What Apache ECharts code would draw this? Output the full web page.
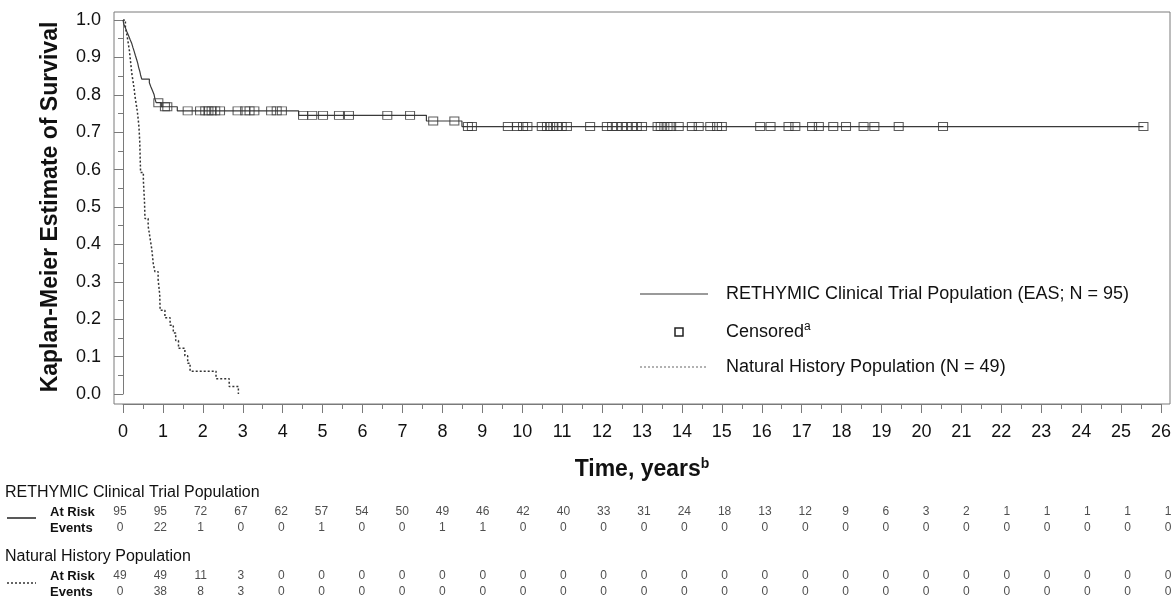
<!DOCTYPE html>
<html><head><meta charset="utf-8">
<script src="https://cdn.jsdelivr.net/npm/echarts@6/dist/echarts.min.js"></script>
<style>html,body{margin:0;padding:0;background:#fff}#c{width:1176px;height:600px}</style>
</head><body><div id="c"></div>
<script>
// RETHYMIC Kaplan-Meier steps (time in years, survival after step)
const rethTime = [0, 0.02, 0.06, 0.10, 0.14, 0.18, 0.22, 0.25, 0.28, 0.31, 0.34, 0.37, 0.39, 0.42, 0.44, 0.47, 0.66, 0.70, 0.74, 0.78, 0.80, 0.83, 0.96, 1.36, 4.40, 7.60, 8.49, 25.56];
const rethSurv = [1.0, 0.989, 0.979, 0.968, 0.958, 0.947, 0.937, 0.926, 0.916, 0.905, 0.895, 0.884, 0.874, 0.863, 0.853, 0.842, 0.832, 0.821, 0.811, 0.800, 0.789, 0.779, 0.768, 0.757, 0.745, 0.730, 0.715, 0.715];
// Censored observations
const censorTime = [0.885, 1.05, 1.11, 1.62, 1.93, 2.06, 2.14, 2.22, 2.31, 2.43, 2.87, 3.06, 3.17, 3.29, 3.71, 3.85, 3.98, 4.51, 4.74, 5.01, 5.41, 5.66, 6.62, 7.19, 7.77, 8.30, 8.64, 8.74, 9.64, 9.87, 10.02, 10.13, 10.49, 10.62, 10.70, 10.78, 10.87, 10.99, 11.12, 11.70, 12.12, 12.25, 12.37, 12.50, 12.62, 12.75, 12.87, 13.00, 13.39, 13.47, 13.56, 13.64, 13.73, 13.92, 14.25, 14.42, 14.71, 14.88, 15.00, 15.96, 16.22, 16.67, 16.84, 17.26, 17.43, 17.79, 18.11, 18.55, 18.82, 19.43, 20.54, 25.56];
const censorSurv = [0.779, 0.768, 0.768,
  0.757, 0.757, 0.757, 0.757, 0.757, 0.757, 0.757, 0.757, 0.757, 0.757, 0.757, 0.757, 0.757, 0.757,
  0.745, 0.745, 0.745, 0.745, 0.745, 0.745, 0.745,
  0.730, 0.730,
  0.715, 0.715, 0.715, 0.715, 0.715, 0.715, 0.715, 0.715, 0.715, 0.715, 0.715, 0.715, 0.715, 0.715, 0.715, 0.715,
  0.715, 0.715, 0.715, 0.715, 0.715, 0.715, 0.715, 0.715, 0.715, 0.715, 0.715, 0.715, 0.715, 0.715, 0.715, 0.715,
  0.715, 0.715, 0.715, 0.715, 0.715, 0.715, 0.715, 0.715, 0.715, 0.715, 0.715, 0.715, 0.715, 0.715];
// Natural history Kaplan-Meier steps
const nhTime = [0, 0.06, 0.10, 0.13, 0.16, 0.18, 0.20, 0.22, 0.25, 0.28, 0.30, 0.33, 0.36, 0.38, 0.40, 0.41, 0.42, 0.43, 0.44, 0.51, 0.52, 0.53, 0.54, 0.55, 0.63, 0.66, 0.69, 0.72, 0.76, 0.80, 0.88, 0.90, 0.92, 0.93, 1.05, 1.18, 1.26, 1.32, 1.39, 1.55, 1.62, 1.68, 2.33, 2.66, 2.89];
const nhSurv = [1.0, 0.980, 0.959, 0.939, 0.918, 0.898, 0.878, 0.857, 0.837, 0.816, 0.796, 0.776, 0.755, 0.735, 0.714, 0.694, 0.673, 0.633, 0.592, 0.571, 0.551, 0.531, 0.510, 0.469, 0.449, 0.429, 0.408, 0.388, 0.347, 0.327, 0.306, 0.286, 0.265, 0.224, 0.204, 0.184, 0.163, 0.143, 0.122, 0.102, 0.082, 0.061, 0.041, 0.020, 0.0];
// Number-at-risk table
const tableYears = [0,1,2,3,4,5,6,7,8,9,10,11,12,13,14,15,16,17,18,19,20,21,22,23,24,25,26];
const rethAtRisk = [95,95,72,67,62,57,54,50,49,46,42,40,33,31,24,18,13,12,9,6,3,2,1,1,1,1,1];
const rethEvents = [0,22,1,0,0,1,0,0,1,1,0,0,0,0,0,0,0,0,0,0,0,0,0,0,0,0,0];
const nhAtRisk = [49,49,11,3,0,0,0,0,0,0,0,0,0,0,0,0,0,0,0,0,0,0,0,0,0,0,0];
const nhEvents = [0,38,8,3,0,0,0,0,0,0,0,0,0,0,0,0,0,0,0,0,0,0,0,0,0,0,0];
const rowNames = ['At Risk', 'Events'];

const FONT = '"Liberation Sans", Arial, sans-serif';
const AX = '#7a7a7a';

function pairs(a, b) { return a.map((v, i) => [v, b[i]]); }
function tableData(risk, events) {
  const d = [];
  tableYears.forEach((y, i) => { d.push([y, 0, risk[i]]); d.push([y, 1, events[i]]); });
  return d;
}

const chart = echarts.init(document.getElementById('c'), null, {renderer: 'canvas'});
const tableAxisY = (gi) => ({
  type: 'category', gridIndex: gi, data: rowNames, inverse: true,
  axisLine: {show: false}, axisTick: {show: false},
  axisLabel: {interval: 0, align: 'left', margin: 70, fontFamily: FONT, fontSize: 13, fontWeight: 'bold', color: '#111'}
});
const tableAxisX = (gi) => ({
  type: 'value', gridIndex: gi, min: 0, max: 26, interval: 1,
  axisLine: {show: false}, axisTick: {show: false}, axisLabel: {show: false}, splitLine: {show: false}
});
const tableSeries = (gi, data) => ({
  type: 'scatter', xAxisIndex: gi, yAxisIndex: gi, data: data, symbolSize: 1,
  itemStyle: {color: 'transparent'}, silent: true,
  label: {show: true, position: 'inside', formatter: p => String(p.value[2]), fontFamily: FONT, fontSize: 12, color: '#222'}
});

chart.setOption({
  animation: false,
  backgroundColor: '#fff',
  grid: [
    {left: 123, right: 15, top: 20, height: 374},
    {left: 120, right: 8, top: 504, height: 32},
    {left: 120, right: 8, top: 568, height: 32}
  ],
  xAxis: [
    {
      type: 'value', gridIndex: 0, min: 0, max: 26, interval: 1, offset: 10,
      axisLine: {show: true, onZero: false, lineStyle: {color: AX}},
      axisTick: {show: true, length: 9, lineStyle: {color: AX}},
      minorTick: {show: true, splitNumber: 2, length: 5, lineStyle: {color: AX}},
      axisLabel: {fontFamily: FONT, fontSize: 18, color: '#111', margin: 19},
      splitLine: {show: false},
      name: '{t|Time, years}{s|b}', nameLocation: 'middle', nameGap: 53,
      nameTextStyle: {
        rich: {
          t: {fontFamily: FONT, fontSize: 23, fontWeight: 'bold', color: '#111', lineHeight: 26},
          s: {fontFamily: FONT, fontSize: 14, fontWeight: 'bold', color: '#111', verticalAlign: 'top', lineHeight: 26}
        }
      }
    },
    tableAxisX(1), tableAxisX(2)
  ],
  yAxis: [
    {
      type: 'value', gridIndex: 0, min: 0, max: 1, interval: 0.1, offset: 9,
      axisLine: {show: true, lineStyle: {color: AX}},
      axisTick: {show: true, length: 9, lineStyle: {color: AX}},
      minorTick: {show: true, splitNumber: 2, length: 5, lineStyle: {color: AX}},
      axisLabel: {fontFamily: FONT, fontSize: 18, color: '#111', margin: 13, formatter: v => v.toFixed(1)},
      splitLine: {show: false},
      name: 'Kaplan-Meier Estimate of Survival', nameLocation: 'middle', nameRotate: 90, nameGap: 52,
      nameTextStyle: {fontFamily: FONT, fontSize: 23, fontWeight: 'bold', color: '#111'}
    },
    tableAxisY(1), tableAxisY(2)
  ],
  graphic: [
    {type: 'rect', shape: {x: 114, y: 12, width: 1056, height: 392}, style: {fill: 'none', stroke: AX, lineWidth: 1}, silent: true, z: -1},
    // legend
    {type: 'line', shape: {x1: 640, y1: 294, x2: 708, y2: 294}, style: {stroke: '#9a9a9a', lineWidth: 2}},
    {type: 'text', x: 726, y: 294, style: {text: 'RETHYMIC Clinical Trial Population (EAS; N = 95)', font: '18px ' + FONT, fill: '#111', verticalAlign: 'middle'}},
    {type: 'rect', shape: {x: 675, y: 328, width: 8, height: 8}, style: {fill: '#fff', stroke: '#222', lineWidth: 1.5}},
    {type: 'text', x: 726, y: 332, style: {
      text: '{t|Censored}{s|a}', verticalAlign: 'middle',
      rich: {t: {font: '18px ' + FONT, fill: '#111', lineHeight: 22}, s: {font: '12px ' + FONT, fill: '#111', verticalAlign: 'top', lineHeight: 22}}
    }},
    {type: 'line', shape: {x1: 640, y1: 367, x2: 708, y2: 367}, style: {stroke: '#666', lineWidth: 1, lineDash: [2, 2]}},
    {type: 'text', x: 726, y: 367, style: {text: 'Natural History Population (N = 49)', font: '18px ' + FONT, fill: '#111', verticalAlign: 'middle'}},
    // table headings
    {type: 'text', x: 5, y: 493, style: {text: 'RETHYMIC Clinical Trial Population', font: '16px ' + FONT, fill: '#111', verticalAlign: 'middle'}},
    {type: 'line', shape: {x1: 7, y1: 518, x2: 36, y2: 518}, style: {stroke: '#222', lineWidth: 1.5}},
    {type: 'text', x: 5, y: 557, style: {text: 'Natural History Population', font: '16px ' + FONT, fill: '#111', verticalAlign: 'middle'}},
    {type: 'line', shape: {x1: 7, y1: 583, x2: 36, y2: 583}, style: {stroke: '#333', lineWidth: 1.5, lineDash: [2, 2]}}
  ],
  series: [
    {
      name: 'RETHYMIC Clinical Trial Population (EAS; N = 95)', type: 'line', step: 'end',
      xAxisIndex: 0, yAxisIndex: 0, data: pairs(rethTime, rethSurv), symbol: 'none',
      lineStyle: {color: '#3a3a3a', width: 1.2}, z: 3
    },
    {
      name: 'Natural History Population (N = 49)', type: 'line', step: 'end',
      xAxisIndex: 0, yAxisIndex: 0, data: pairs(nhTime, nhSurv), symbol: 'none',
      lineStyle: {color: '#333', width: 1.5, type: [2, 2]}, z: 3
    },
    {
      name: 'Censored', type: 'scatter', xAxisIndex: 0, yAxisIndex: 0,
      data: pairs(censorTime, censorSurv), symbol: 'rect', symbolSize: [9, 8],
      itemStyle: {color: 'rgba(255,255,255,0)', borderColor: '#333', borderWidth: 1}, z: 4
    },
    tableSeries(1, tableData(rethAtRisk, rethEvents)),
    tableSeries(2, tableData(nhAtRisk, nhEvents))
  ]
});
</script>
</body></html>
